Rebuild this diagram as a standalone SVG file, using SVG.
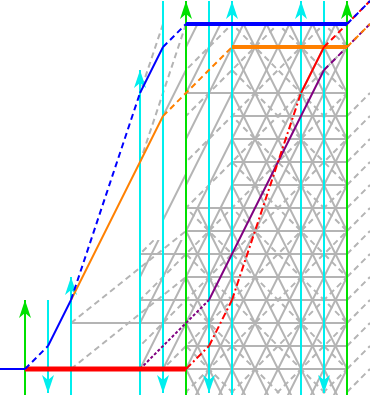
<svg xmlns="http://www.w3.org/2000/svg" xmlns:xlink="http://www.w3.org/1999/xlink" width="370" height="395" viewBox="0 0 370 395">
<style>
line, polyline { fill: none; stroke-linecap: butt; }
.g { stroke: #b4b4b4; stroke-width: 2; }
.gd { stroke: #b4b4b4; stroke-width: 2; stroke-dasharray: 6 4; }
.cy { stroke: #00eeee; stroke-width: 2; }
.gr { stroke: #00e000; stroke-width: 2; }
.b { stroke: #0000ff; stroke-width: 2; }
.bk { stroke: #0000ff; stroke-width: 4; }
.o { stroke: #ff8000; stroke-width: 2; }
.ok { stroke: #ff8000; stroke-width: 4; }
.r { stroke: #ff0000; stroke-width: 2; }
.rk { stroke: #ff0000; stroke-width: 5; }
.p { stroke: #800080; stroke-width: 2; }
.d { stroke-dasharray: 6 4; }
.dd { stroke-dasharray: 7 3 2 3; }
.dt { stroke-dasharray: 3 2; }
</style>
<defs>
<marker id="ac" markerUnits="userSpaceOnUse" markerWidth="18" markerHeight="12" viewBox="0 0 18 12" refX="18" refY="6" orient="auto">
<path d="M0,0 L18,6 L0,12 L5,6 Z" fill="#00eeee"/>
</marker>
<marker id="ag" markerUnits="userSpaceOnUse" markerWidth="18" markerHeight="12" viewBox="0 0 18 12" refX="18" refY="6" orient="auto">
<path d="M0,0 L18,6 L0,12 L5,6 Z" fill="#00e000"/>
</marker>
<clipPath id="cA">
<rect x="186" y="24" width="161" height="371"/>
<rect x="140" y="240" width="46" height="129"/>
</clipPath>
<clipPath id="cB">
<polygon points="232,24 347,24 347,395 186,395 186,208 232,208"/>
</clipPath>
</defs>

<g id="grid">
<g id="horizontals" class="g">
<line x1="186" y1="93" x2="347" y2="93"/>
<line x1="232" y1="116" x2="347" y2="116"/>
<line x1="232" y1="139" x2="347" y2="139"/>
<line x1="232" y1="162" x2="347" y2="162"/>
<line x1="232" y1="185" x2="347" y2="185"/>
<line x1="186" y1="208" x2="347" y2="208"/>
<line x1="186" y1="231" x2="347" y2="231"/>
<line x1="140" y1="254" x2="347" y2="254"/>
<line x1="186" y1="277" x2="347" y2="277"/>
<line x1="140" y1="300" x2="347" y2="300"/>
<line x1="71" y1="323" x2="347" y2="323"/>
<line x1="186" y1="346" x2="347" y2="346"/>
<line x1="186" y1="369" x2="347" y2="369"/>
</g>
<g id="slope2-up" class="g" clip-path="url(#cA)">
<line x1="209.5" y1="0" x2="9.5" y2="400"/>
<line x1="232.5" y1="0" x2="32.5" y2="400"/>
<line x1="255.5" y1="0" x2="55.5" y2="400"/>
<line x1="278.5" y1="0" x2="78.5" y2="400"/>
<line x1="301.5" y1="0" x2="101.5" y2="400"/>
<line x1="324.5" y1="0" x2="124.5" y2="400"/>
<line x1="347.5" y1="0" x2="147.5" y2="400"/>
<line x1="370.5" y1="0" x2="170.5" y2="400"/>
<line x1="393.5" y1="0" x2="193.5" y2="400"/>
<line x1="416.5" y1="0" x2="216.5" y2="400"/>
<line x1="439.5" y1="0" x2="239.5" y2="400"/>
<line x1="462.5" y1="0" x2="262.5" y2="400"/>
<line x1="485.5" y1="0" x2="285.5" y2="400"/>
<line x1="508.5" y1="0" x2="308.5" y2="400"/>
<line x1="531.5" y1="0" x2="331.5" y2="400"/>
</g>
<g id="slope2-down" class="g" clip-path="url(#cB)">
<line x1="1.5" y1="0" x2="201.5" y2="400"/>
<line x1="24.5" y1="0" x2="224.5" y2="400"/>
<line x1="47.5" y1="0" x2="247.5" y2="400"/>
<line x1="70.5" y1="0" x2="270.5" y2="400"/>
<line x1="93.5" y1="0" x2="293.5" y2="400"/>
<line x1="116.5" y1="0" x2="316.5" y2="400"/>
<line x1="139.5" y1="0" x2="339.5" y2="400"/>
<line x1="162.5" y1="0" x2="362.5" y2="400"/>
<line x1="185.5" y1="0" x2="385.5" y2="400"/>
<line x1="208.5" y1="0" x2="408.5" y2="400"/>
<line x1="231.5" y1="0" x2="431.5" y2="400"/>
<line x1="254.5" y1="0" x2="454.5" y2="400"/>
<line x1="277.5" y1="0" x2="477.5" y2="400"/>
<line x1="300.5" y1="0" x2="500.5" y2="400"/>
<line x1="323.5" y1="0" x2="523.5" y2="400"/>
</g>
<g id="light-up" class="gd" clip-path="url(#cA)">
<line x1="256" y1="0" x2="-144" y2="400"/>
<line x1="302" y1="0" x2="-98" y2="400"/>
<line x1="348" y1="0" x2="-52" y2="400"/>
<line x1="394" y1="0" x2="-6" y2="400"/>
<line x1="440" y1="0" x2="40" y2="400"/>
<line x1="486" y1="0" x2="86" y2="400"/>
<line x1="532" y1="0" x2="132" y2="400"/>
<line x1="578" y1="0" x2="178" y2="400"/>
<line x1="624" y1="0" x2="224" y2="400"/>
<line x1="670" y1="0" x2="270" y2="400"/>
<line x1="716" y1="0" x2="316" y2="400"/>
<line x1="762" y1="0" x2="362" y2="400"/>
</g>
<g id="light-down" class="gd" clip-path="url(#cB)">
<line x1="-206" y1="0" x2="194" y2="400"/>
<line x1="-160" y1="0" x2="240" y2="400"/>
<line x1="-114" y1="0" x2="286" y2="400"/>
<line x1="-68" y1="0" x2="332" y2="400"/>
<line x1="-22" y1="0" x2="378" y2="400"/>
<line x1="24" y1="0" x2="424" y2="400"/>
<line x1="70" y1="0" x2="470" y2="400"/>
<line x1="116" y1="0" x2="516" y2="400"/>
<line x1="162" y1="0" x2="562" y2="400"/>
<line x1="208" y1="0" x2="608" y2="400"/>
<line x1="254" y1="0" x2="654" y2="400"/>
<line x1="300" y1="0" x2="700" y2="400"/>
</g>
<g id="margin-light" class="gd">
<line x1="347" y1="116" x2="370" y2="93"/>
<line x1="347" y1="139" x2="370" y2="116"/>
<line x1="347" y1="162" x2="370" y2="139"/>
<line x1="347" y1="185" x2="370" y2="162"/>
<line x1="347" y1="208" x2="370" y2="185"/>
<line x1="347" y1="231" x2="370" y2="208"/>
<line x1="347" y1="254" x2="370" y2="231"/>
<line x1="347" y1="277" x2="370" y2="254"/>
<line x1="347" y1="300" x2="370" y2="277"/>
<line x1="347" y1="323" x2="370" y2="300"/>
<line x1="347" y1="346" x2="370" y2="323"/>
<line x1="347" y1="369" x2="370" y2="346"/>
<line x1="347" y1="392" x2="370" y2="369"/>
</g>
<g id="left-lines">
<line class="gd" x1="71" y1="369" x2="186" y2="277"/>
<line class="gd" x1="71" y1="323" x2="186" y2="231"/>
<line class="gd" x1="163" y1="24" x2="140" y2="93"/>
<line class="gd" x1="186" y1="24" x2="140" y2="162"/>
<line class="g" x1="186" y1="70" x2="163" y2="116"/>
<line class="g" x1="186" y1="174" x2="163" y2="220"/>
</g>
</g>

<g id="worldlines">
<line id="g0" class="gr" x1="25" y1="395" x2="25" y2="300" marker-end="url(#ag)"/>
<line id="c1" class="cy" x1="48" y1="300" x2="48" y2="393" marker-end="url(#ac)"/>
<line id="c2" class="cy" x1="71" y1="395" x2="71" y2="277" marker-end="url(#ac)"/>
<line id="c5" class="cy" x1="140" y1="395" x2="140" y2="70" marker-end="url(#ac)"/>
<line id="c6" class="cy" x1="163" y1="1" x2="163" y2="393" marker-end="url(#ac)"/>
<line id="g7" class="gr" x1="186" y1="395" x2="186" y2="1" marker-end="url(#ag)"/>
<line id="c8" class="cy" x1="209" y1="1" x2="209" y2="393" marker-end="url(#ac)"/>
<line id="c9" class="cy" x1="232" y1="395" x2="232" y2="1" marker-end="url(#ac)"/>
<line id="c12" class="cy" x1="301" y1="395" x2="301" y2="1" marker-end="url(#ac)"/>
<line id="c13" class="cy" x1="324" y1="1" x2="324" y2="393" marker-end="url(#ac)"/>
<line id="g14" class="gr" x1="347" y1="395" x2="347" y2="1" marker-end="url(#ag)"/>
</g>

<g id="purple">
<line class="p dt" x1="140" y1="369" x2="209" y2="300"/>
<line class="p" x1="209" y1="300" x2="324" y2="70"/>
<line class="p d" x1="324" y1="70" x2="370" y2="24"/>
</g>
<g id="orange">
<line class="o" x1="71" y1="300" x2="163" y2="116"/>
<line class="o d" x1="163" y1="116" x2="232" y2="47"/>
<line class="ok" x1="232" y1="47" x2="347" y2="47"/>
<line class="o d" x1="347" y1="47" x2="370" y2="24"/>
</g>
<g id="red">
<line class="rk" x1="25" y1="369" x2="186" y2="369"/>
<line class="r dd" x1="186" y1="369" x2="209" y2="346"/>
<line class="r dd" x1="209" y1="346" x2="232" y2="300"/>
<line class="r dd" x1="232" y1="300" x2="301" y2="93"/>
<line class="r" x1="301" y1="93" x2="324" y2="47"/>
<line class="r d" x1="324" y1="47" x2="370" y2="1"/>
</g>
<g id="blue">
<line class="b" x1="0" y1="369" x2="25" y2="369"/>
<line class="b d" x1="25" y1="369" x2="48" y2="346"/>
<line class="b" x1="48" y1="346" x2="71" y2="300"/>
<line class="b d" x1="71" y1="300" x2="140" y2="93"/>
<line class="b" x1="140" y1="93" x2="163" y2="47"/>
<line class="b d" x1="163" y1="47" x2="186" y2="24"/>
<line class="bk" x1="186" y1="24" x2="347" y2="24"/>
<line class="b d" x1="347" y1="24" x2="370" y2="1"/>
</g>
</svg>
